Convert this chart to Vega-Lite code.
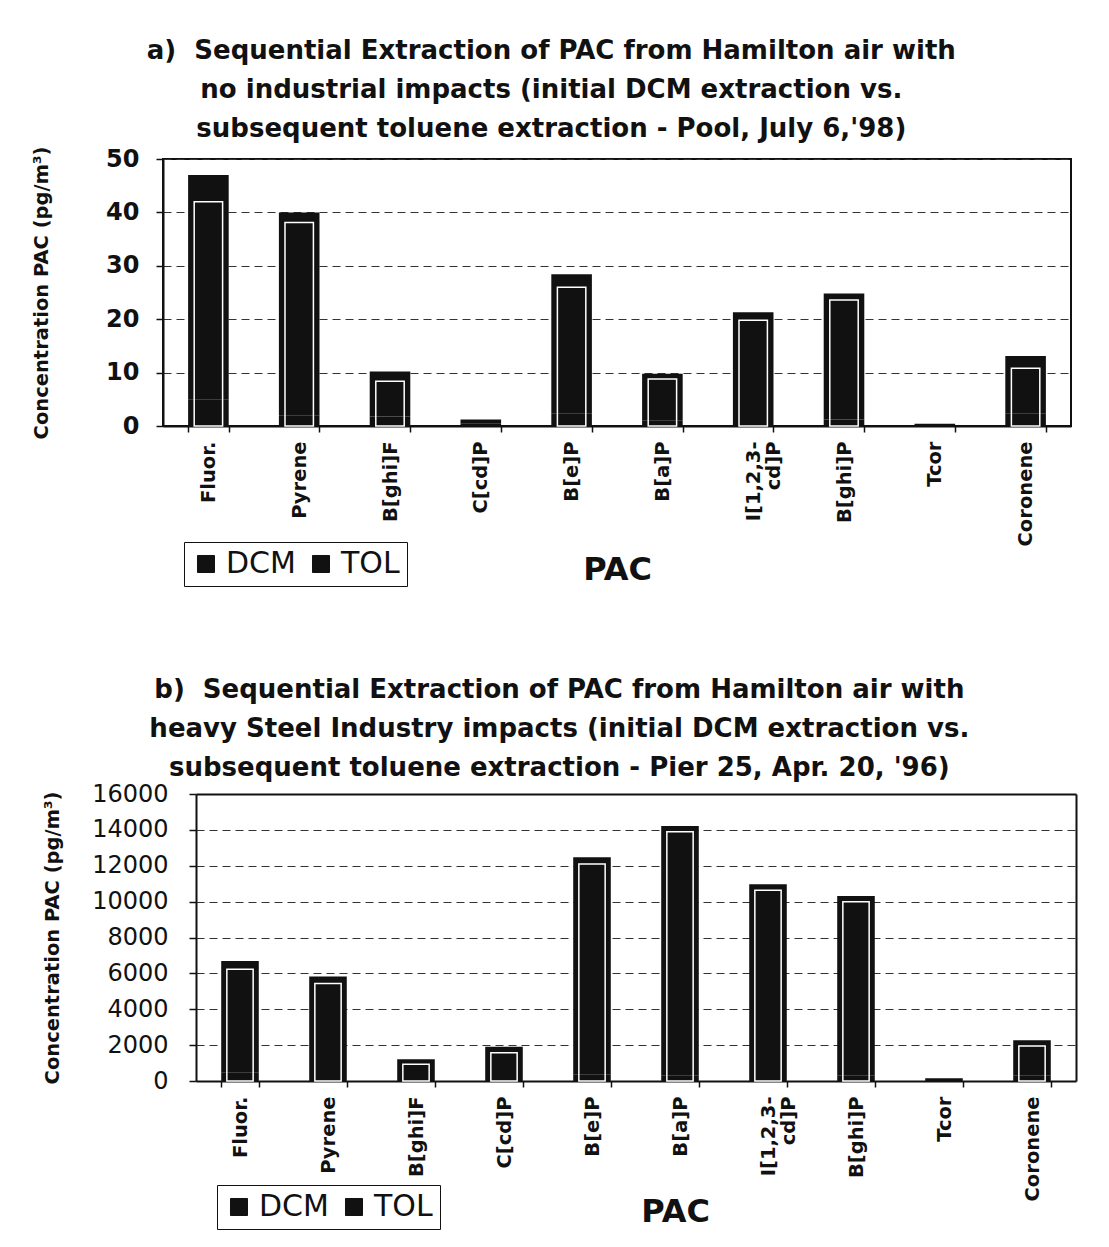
{
  "$schema": "https://vega.github.io/schema/vega-lite/v6.json",
  "background": "white",
  "padding": {"left": 30, "top": 37, "right": 30, "bottom": 10},
  "spacing": 89,
  "resolve": {"scale": {"color": "independent"}},
  "config": {
    "font": "DejaVu Sans",
    "view": {"stroke": "#111", "strokeWidth": 2},
    "title": {
      "font": "DejaVu Sans",
      "fontSize": 26,
      "fontWeight": "bold",
      "color": "#111",
      "lineHeight": 39,
      "anchor": "middle",
      "frame": "bounds",
      "offset": 4
    },
    "axis": {
      "domainColor": "#111",
      "domainWidth": 2,
      "tickColor": "#111",
      "tickWidth": 1.5,
      "labelColor": "#111",
      "titleColor": "#111",
      "labelFont": "DejaVu Sans",
      "titleFont": "DejaVu Sans",
      "titleFontWeight": "bold"
    },
    "axisX": {
      "labelAngle": -90,
      "labelFontSize": 19.5,
      "labelFontWeight": "bold",
      "labelLineHeight": 20,
      "labelPadding": 9,
      "labelLimit": 300,
      "tickBand": "extent",
      "tickSize": 6,
      "grid": false,
      "zindex": 1,
      "titleFontSize": 32,
      "titlePadding": 9
    },
    "axisY": {
      "grid": true,
      "gridColor": "#333",
      "gridDash": [8, 5],
      "gridWidth": 1,
      "tickSize": 7,
      "labelFontSize": 24,
      "labelOverlap": false,
      "titleFontSize": 19.5
    },
    "legend": {
      "orient": "none",
      "direction": "horizontal",
      "title": null,
      "strokeColor": "#111",
      "padding": 7,
      "symbolType": "square",
      "symbolSize": 290,
      "symbolFillColor": "#111",
      "symbolStrokeColor": "#111",
      "symbolStrokeWidth": 1,
      "labelFont": "DejaVu Sans",
      "labelFontSize": 30,
      "labelColor": "#111",
      "labelOffset": 5,
      "columnPadding": 10
    }
  },
  "datasets": {
    "poolJuly98": [
      {"pac": "Fluor.", "solvent": "DCM", "conc": 42.0},
      {"pac": "Fluor.", "solvent": "TOL", "conc": 5.0},
      {"pac": "Pyrene", "solvent": "DCM", "conc": 38.1},
      {"pac": "Pyrene", "solvent": "TOL", "conc": 1.9},
      {"pac": "B[ghi]F", "solvent": "DCM", "conc": 8.4},
      {"pac": "B[ghi]F", "solvent": "TOL", "conc": 1.8},
      {"pac": "C[cd]P", "solvent": "DCM", "conc": 0.8},
      {"pac": "C[cd]P", "solvent": "TOL", "conc": 0.4},
      {"pac": "B[e]P", "solvent": "DCM", "conc": 26.0},
      {"pac": "B[e]P", "solvent": "TOL", "conc": 2.4},
      {"pac": "B[a]P", "solvent": "DCM", "conc": 8.8},
      {"pac": "B[a]P", "solvent": "TOL", "conc": 1.0},
      {"pac": "I[1,2,3-cd]P", "solvent": "DCM", "conc": 19.8},
      {"pac": "I[1,2,3-cd]P", "solvent": "TOL", "conc": 1.5},
      {"pac": "B[ghi]P", "solvent": "DCM", "conc": 23.6},
      {"pac": "B[ghi]P", "solvent": "TOL", "conc": 1.2},
      {"pac": "Tcor", "solvent": "DCM", "conc": 0.3},
      {"pac": "Tcor", "solvent": "TOL", "conc": 0.1},
      {"pac": "Coronene", "solvent": "DCM", "conc": 10.8},
      {"pac": "Coronene", "solvent": "TOL", "conc": 2.3}
    ],
    "pier25Apr96": [
      {"pac": "Fluor.", "solvent": "DCM", "conc": 6230},
      {"pac": "Fluor.", "solvent": "TOL", "conc": 460},
      {"pac": "Pyrene", "solvent": "DCM", "conc": 5430},
      {"pac": "Pyrene", "solvent": "TOL", "conc": 390},
      {"pac": "B[ghi]F", "solvent": "DCM", "conc": 930},
      {"pac": "B[ghi]F", "solvent": "TOL", "conc": 280},
      {"pac": "C[cd]P", "solvent": "DCM", "conc": 1580},
      {"pac": "C[cd]P", "solvent": "TOL", "conc": 330},
      {"pac": "B[e]P", "solvent": "DCM", "conc": 12100},
      {"pac": "B[e]P", "solvent": "TOL", "conc": 370},
      {"pac": "B[a]P", "solvent": "DCM", "conc": 13900},
      {"pac": "B[a]P", "solvent": "TOL", "conc": 320},
      {"pac": "I[1,2,3-cd]P", "solvent": "DCM", "conc": 10630},
      {"pac": "I[1,2,3-cd]P", "solvent": "TOL", "conc": 340},
      {"pac": "B[ghi]P", "solvent": "DCM", "conc": 10000},
      {"pac": "B[ghi]P", "solvent": "TOL", "conc": 320},
      {"pac": "Tcor", "solvent": "DCM", "conc": 100},
      {"pac": "Tcor", "solvent": "TOL", "conc": 50},
      {"pac": "Coronene", "solvent": "DCM", "conc": 1950},
      {"pac": "Coronene", "solvent": "TOL", "conc": 320}
    ]
  },
  "vconcat": [
    {
      "width": 908,
      "height": 267,
      "title": {
        "text": [
          "a)\u00a0 Sequential Extraction of PAC from Hamilton air with",
          "no industrial impacts (initial DCM extraction vs.",
          "subsequent toluene extraction - Pool, July 6,'98)"
        ]
      },
      "data": {"name": "poolJuly98"},
      "encoding": {
        "x": {
          "field": "pac",
          "type": "nominal",
          "scale": {
            "domain": ["Fluor.", "Pyrene", "B[ghi]F", "C[cd]P", "B[e]P", "B[a]P", "I[1,2,3-cd]P", "B[ghi]P", "Tcor", "Coronene"],
            "paddingInner": 0.553,
            "paddingOuter": 0.2765
          },
          "axis": {
            "title": "PAC",
            "labelExpr": "datum.label === 'I[1,2,3-cd]P' ? ['I[1,2,3-', 'cd]P'] : datum.label"
          }
        }
      },
      "layer": [
        {
          "mark": {"type": "bar"},
          "encoding": {
            "y": {
              "field": "conc",
              "type": "quantitative",
              "stack": "zero",
              "scale": {"domain": [0, 50]},
              "axis": {
                "title": "Concentration PAC (pg/m³)",
                "values": [0, 10, 20, 30, 40, 50],
                "labelFontWeight": "bold",
                "labelPadding": 17,
                "titlePadding": 54
              }
            },
            "color": {
              "field": "solvent",
              "type": "nominal",
              "scale": {"domain": ["DCM", "TOL"], "range": ["#111", "#111"]},
              "legend": {"legendX": 21, "legendY": 383}
            }
          }
        },
        {
          "transform": [{"filter": "datum.solvent === 'DCM' && datum.conc > 2"}],
          "mark": {"type": "bar", "filled": false, "color": "white", "strokeWidth": 1.5, "width": {"band": 0.7}},
          "encoding": {
            "y": {"field": "conc", "type": "quantitative", "stack": null}
          }
        }
      ]
    },
    {
      "width": 913,
      "height": 287,
      "view": {"stroke": null},
      "title": {
        "text": [
          "b)\u00a0 Sequential Extraction of PAC from Hamilton air with",
          "heavy Steel Industry impacts (initial DCM extraction vs.",
          "subsequent toluene extraction - Pier 25, Apr. 20, '96)"
        ],
        "offset": 1
      },
      "data": {"name": "pier25Apr96"},
      "layer": [
        {
          "mark": {"type": "bar"},
          "encoding": {
            "x": {
              "field": "pac",
              "type": "nominal",
              "scale": {
                "domain": ["Fluor.", "Pyrene", "B[ghi]F", "C[cd]P", "B[e]P", "B[a]P", "I[1,2,3-cd]P", "B[ghi]P", "Tcor", "Coronene"],
                "range": [33, 913],
                "paddingInner": 0.573,
                "paddingOuter": 0.2865
              },
              "axis": {
                "title": "PAC",
                "titleX": 512,
                "titlePadding": -4,
                "labelExpr": "datum.label === 'I[1,2,3-cd]P' ? ['I[1,2,3-', 'cd]P'] : datum.label"
              }
            },
            "y": {
              "field": "conc",
              "type": "quantitative",
              "stack": "zero",
              "scale": {"domain": [0, 16000]},
              "axis": {
                "title": "Concentration PAC (pg/m³)",
                "values": [0, 2000, 4000, 6000, 8000, 10000, 12000, 14000, 16000],
                "format": "d",
                "offset": -33,
                "labelPadding": 21,
                "titlePadding": 29
              }
            },
            "color": {
              "field": "solvent",
              "type": "nominal",
              "scale": {"domain": ["DCM", "TOL"], "range": ["#111", "#111"]},
              "legend": {"legendX": 54, "legendY": 391}
            }
          }
        },
        {
          "transform": [{"filter": "datum.solvent === 'DCM' && datum.conc > 300"}],
          "mark": {"type": "bar", "filled": false, "color": "white", "strokeWidth": 1.5, "width": {"band": 0.7}},
          "encoding": {
            "x": {
              "field": "pac",
              "type": "nominal",
              "axis": {"orient": "top", "labels": false, "ticks": false, "title": null}
            },
            "y": {
              "field": "conc",
              "type": "quantitative",
              "stack": null,
              "axis": {"orient": "right", "labels": false, "ticks": false, "grid": false, "title": null}
            }
          }
        }
      ],
      "resolve": {"axis": {"x": "independent", "y": "independent"}}
    }
  ]
}
